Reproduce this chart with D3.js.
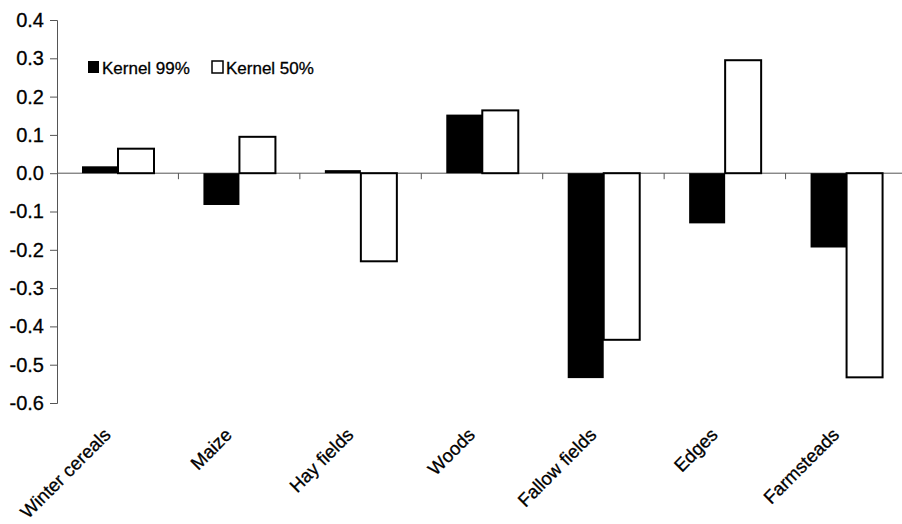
<!DOCTYPE html>
<html>
<head>
<meta charset="utf-8">
<script src="https://cdn.jsdelivr.net/npm/d3@7"></script>
<style>
  body { margin: 0; background: #fff; }
  text { font-family: Arial, "Liberation Sans", sans-serif; fill: #000; stroke: #000; stroke-width: 0.3px; }
</style>
</head>
<body>
<div id="chart"></div>
<script>
// Data
const categories = ["Winter cereals", "Maize", "Hay fields", "Woods", "Fallow fields", "Edges", "Farmsteads"];
const seriesNames = ["Kernel 99%", "Kernel 50%"];
const kernel99 = [0.018, -0.083, 0.008, 0.153, -0.535, -0.131, -0.194];
const kernel50 = [0.064, 0.095, -0.230, 0.164, -0.435, 0.295, -0.533];
const yTicks = [0.4, 0.3, 0.2, 0.1, 0.0, -0.1, -0.2, -0.3, -0.4, -0.5, -0.6];
const yTickLabels = ["0.4", "0.3", "0.2", "0.1", "0.0", "-0.1", "-0.2", "-0.3", "-0.4", "-0.5", "-0.6"];

const width = 902, height = 524;

const svg = d3.select("#chart")
    .append("svg")
    .attr("width", width)
    .attr("height", height);

// Scales
const x = d3.scaleBand()
    .domain(categories)
    .range([57, 907])
    .padding(0);

const x1 = d3.scaleBand()
    .domain(seriesNames)
    .range([25, 97]);

const y = d3.scaleLinear()
    .domain([-0.6, 0.4])
    .range([403, 20]);

// Y axis
const yAxis = d3.axisLeft(y)
    .tickValues(yTicks)
    .tickSize(7)
    .tickPadding(6)
    .tickFormat((d, i) => yTickLabels[i]);

const gy = svg.append("g")
    .attr("transform", "translate(57,0)")
    .call(yAxis);
gy.select(".domain").attr("stroke", "#555").attr("stroke-width", 1);
gy.selectAll(".tick line").attr("stroke", "#555");
gy.selectAll(".tick text")
    .style("font-size", "20px")
    .attr("fill", "#000");

// Zero line with category ticks
svg.append("line")
    .attr("x1", 57).attr("x2", 907)
    .attr("y1", y(0)).attr("y2", y(0))
    .attr("stroke", "#555")
    .attr("stroke-width", 1);

svg.selectAll(".cat-tick")
    .data(categories.slice(1))
    .enter()
    .append("line")
    .attr("class", "cat-tick")
    .attr("x1", d => x(d)).attr("x2", d => x(d))
    .attr("y1", y(0)).attr("y2", y(0) + 6)
    .attr("stroke", "#555");

// Bars
const rows = categories.map((c, i) => ({ cat: c, values: [kernel99[i], kernel50[i]] }));

const groups = svg.selectAll(".grp")
    .data(rows)
    .enter()
    .append("g")
    .attr("class", "grp")
    .attr("transform", d => `translate(${x(d.cat)},0)`);

groups.selectAll("rect")
    .data(d => d.values.map((v, j) => ({ key: seriesNames[j], v: v })))
    .enter()
    .append("rect")
    .attr("x", d => x1(d.key))
    .attr("width", x1.bandwidth())
    .attr("y", d => y(Math.max(0, d.v)))
    .attr("height", d => Math.abs(y(d.v) - y(0)))
    .attr("fill", d => d.key === seriesNames[0] ? "#000" : "#fff")
    .attr("stroke", "#000")
    .attr("stroke-width", d => d.key === seriesNames[0] ? 0 : 2);

// Category labels, rotated
svg.selectAll(".cat-label")
    .data(categories)
    .enter()
    .append("text")
    .attr("class", "cat-label")
    .attr("text-anchor", "end")
    .attr("transform", d => `translate(${x(d) + x.bandwidth() / 2 - 6},436) rotate(-45)`)
    .style("font-size", "18.5px")
    .text(d => d);

// Legend
const legend = svg.append("g").attr("transform", "translate(88,61)");
const legendX = [0, 124];
seriesNames.forEach((name, i) => {
    legend.append("rect")
        .attr("x", legendX[i])
        .attr("y", 0)
        .attr("width", 11)
        .attr("height", 12)
        .attr("fill", i === 0 ? "#000" : "#fff")
        .attr("stroke", "#000")
        .attr("stroke-width", i === 0 ? 0 : 1.5);
    legend.append("text")
        .attr("x", legendX[i] + 14)
        .attr("y", 12.5)
        .style("font-size", "17px")
        .text(name);
});
</script>
</body>
</html>
